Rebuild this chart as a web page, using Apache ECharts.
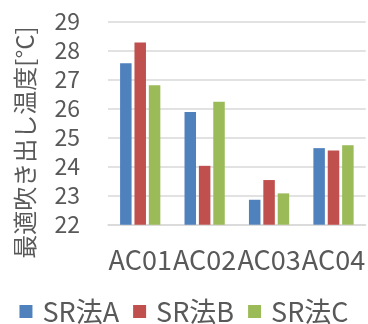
<!DOCTYPE html>
<html>
<head>
<meta charset="utf-8">
<script src="https://cdn.jsdelivr.net/npm/echarts@6/dist/echarts.min.js"></script>
<style>
  html, body { margin: 0; padding: 0; background: #fff; }
  #chart { width: 368px; height: 324px; }
</style>
</head>
<body>
<div id="chart"></div>
<script>
// Optimal outlet temperature per AC unit, three SR methods
const categories = ['AC01', 'AC02', 'AC03', 'AC04'];
const seriesNames = ['SR法A', 'SR法B', 'SR法C'];
const valuesA = [27.57, 25.89, 22.86, 24.64];
const valuesB = [28.28, 24.03, 23.54, 24.56];
const valuesC = [26.81, 26.24, 23.08, 24.74];
const yTicks = { min: 22, max: 29, step: 1 };
const yTitle = '最適吹き出し温度[°C]';

const FONT = '"Noto Sans CJK JP", "Noto Sans", sans-serif';
const TEXT = '#595959';
const colors = ['#4F81BD', '#C0504D', '#9BBB59'];

const chart = echarts.init(document.getElementById('chart'), null, { renderer: 'canvas' });

const allValues = [valuesA, valuesB, valuesC];

chart.setOption({
  animation: false,
  color: colors,
  textStyle: { fontFamily: FONT, color: TEXT },
  grid: { left: 108, right: 1, top: 21.7, bottom: 99.3, containLabel: false },
  legend: {
    data: seriesNames,
    top: 298,
    left: 'center',
    padding: 0,
    itemWidth: 13,
    itemHeight: 13,
    itemGap: 14,
    icon: 'rect',
    textStyle: { fontFamily: FONT, fontSize: 27, color: TEXT, padding: [0, 0, 0, 5] }
  },
  xAxis: {
    type: 'category',
    data: categories,
    axisTick: { show: false },
    axisLine: { show: true, lineStyle: { color: '#d9d9d9', width: 1.5 } },
    axisLabel: { fontFamily: FONT, fontSize: 27, color: TEXT, margin: 22, interval: 0 }
  },
  yAxis: {
    type: 'value',
    min: yTicks.min,
    max: yTicks.max,
    interval: yTicks.step,
    axisLine: { show: false },
    axisTick: { show: false },
    splitLine: { lineStyle: { color: '#d9d9d9', width: 1.5 } },
    axisLabel: { fontFamily: FONT, fontSize: 23, color: TEXT, margin: 28 }
  },
  graphic: [{
    type: 'text',
    x: 25,
    y: 142.5,
    rotation: Math.PI / 2,
    style: {
      text: yTitle,
      fontFamily: FONT,
      fontSize: 24,
      fill: TEXT,
      align: 'center',
      verticalAlign: 'middle'
    }
  }],
  series: seriesNames.map((name, i) => ({
    name: name,
    type: 'bar',
    data: allValues[i],
    barWidth: 11.5,
    barGap: '25%',
    itemStyle: { color: colors[i] }
  }))
});
</script>
</body>
</html>
